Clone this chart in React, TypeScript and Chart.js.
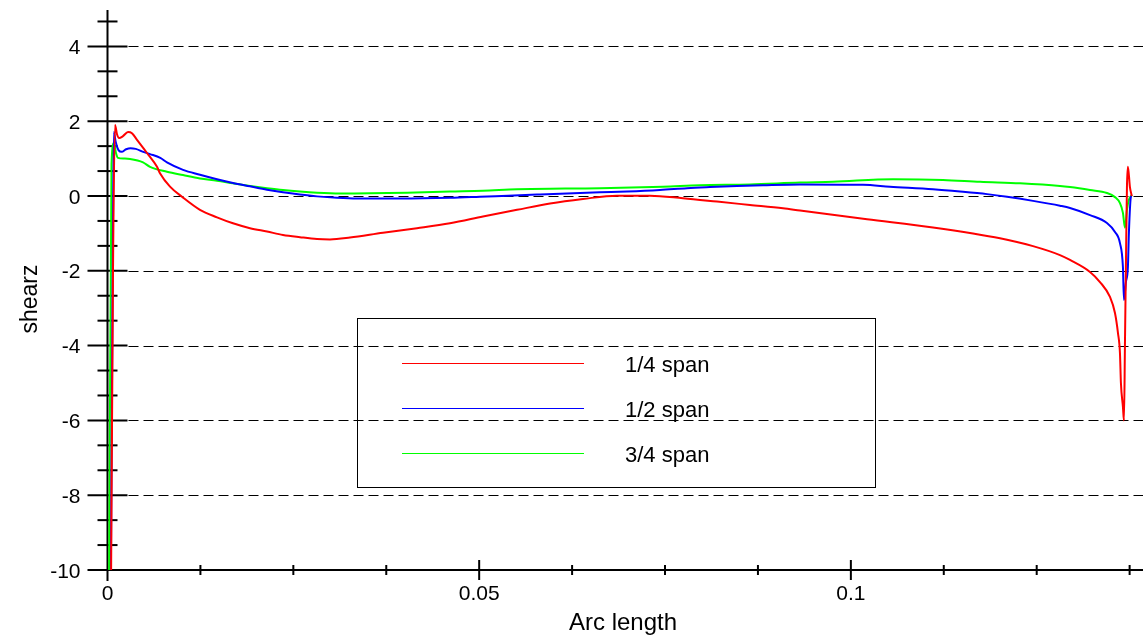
import React, { useEffect, useRef } from "react";
import { Chart, registerables } from "chart.js";

Chart.register(...registerables);

// ---- data ----
const seriesLabels = ["1/4 span", "1/2 span", "3/4 span"];
const seriesColors = ["#ff0000", "#0000ff", "#00ff00"];

const redX = [0.00043, 0.00074, 0.00101, 0.00128, 0.00155, 0.00208, 0.00276, 0.00329, 0.00397, 0.00531, 0.00666, 0.00706, 0.00841, 0.01002, 0.01244, 0.01473, 0.01688, 0.01917, 0.02146, 0.02361, 0.02589, 0.02818, 0.02993, 0.03262, 0.03706, 0.04163, 0.04607, 0.05051, 0.05509, 0.05953, 0.06396, 0.06854, 0.07297, 0.07741, 0.08199, 0.08643, 0.09087, 0.09316, 0.10218, 0.11105, 0.11643, 0.12006, 0.1245, 0.12813, 0.12948, 0.13217, 0.13351, 0.13486, 0.13553, 0.13593, 0.1362, 0.13633, 0.1366, 0.13674, 0.13687, 0.137, 0.13714, 0.13727, 0.13754, 0.1378];
const redY = [-12, -2, 1.9, 1.65, 1.55, 1.6, 1.71, 1.68, 1.5, 1.15, 0.78, 0.61, 0.25, -0.02, -0.37, -0.57, -0.73, -0.86, -0.95, -1.04, -1.1, -1.15, -1.16, -1.11, -0.98, -0.86, -0.73, -0.55, -0.37, -0.2, -0.08, 0.01, 0.01, -0.06, -0.15, -0.24, -0.33, -0.39, -0.62, -0.84, -1.0, -1.13, -1.34, -1.58, -1.71, -2.03, -2.3, -2.7, -3.13, -3.66, -4.2, -5.0, -5.64, -6.0, -4.0, -1.9, 0.24, 0.78, 0.24, 0];

const blueX = [0.0004, 0.0007, 0.00085, 0.0011, 0.0015, 0.0019, 0.0025, 0.0031, 0.0038, 0.0048, 0.00572, 0.0071, 0.008, 0.01016, 0.01244, 0.01473, 0.01688, 0.01917, 0.02146, 0.02361, 0.02589, 0.02818, 0.03087, 0.03356, 0.03935, 0.04607, 0.05011, 0.05388, 0.05778, 0.06181, 0.06625, 0.06988, 0.07432, 0.07795, 0.08105, 0.08468, 0.08818, 0.09316, 0.10163, 0.10526, 0.11105, 0.11468, 0.11832, 0.12101, 0.1245, 0.12813, 0.12948, 0.13217, 0.13445, 0.13553, 0.1362, 0.1366, 0.13674, 0.137, 0.13727, 0.1374, 0.13768, 0.1378];
const blueY = [-12, -2, 1.71, 1.45, 1.22, 1.18, 1.25, 1.28, 1.26, 1.18, 1.12, 1.02, 0.9, 0.7, 0.57, 0.45, 0.35, 0.26, 0.17, 0.1, 0.04, -0.01, -0.05, -0.07, -0.07, -0.05, -0.02, 0.01, 0.04, 0.07, 0.1, 0.12, 0.16, 0.21, 0.24, 0.27, 0.29, 0.31, 0.3, 0.25, 0.18, 0.12, 0.05, -0.02, -0.13, -0.26, -0.32, -0.51, -0.72, -0.96, -1.26, -1.9, -2.78, -2.3, -1.9, -1.0, -0.02, 0];

const greenX = [0.0002, 0.00054, 0.00087, 0.00114, 0.00141, 0.00222, 0.00303, 0.00478, 0.00572, 0.008, 0.01016, 0.01244, 0.01473, 0.01688, 0.01917, 0.02146, 0.02361, 0.02589, 0.02818, 0.03128, 0.0403, 0.04607, 0.05051, 0.05509, 0.06625, 0.07472, 0.0797, 0.08643, 0.09316, 0.0976, 0.10567, 0.1124, 0.11738, 0.12276, 0.12813, 0.12948, 0.13217, 0.13445, 0.13553, 0.1362, 0.1366, 0.13687, 0.13714, 0.1374, 0.1378];
const greenY = [-11, 0.86, 1.42, 1.15, 1.02, 1.0, 0.99, 0.9, 0.78, 0.65, 0.56, 0.47, 0.41, 0.34, 0.27, 0.21, 0.16, 0.12, 0.09, 0.07, 0.09, 0.12, 0.14, 0.18, 0.21, 0.25, 0.29, 0.31, 0.36, 0.38, 0.45, 0.43, 0.38, 0.34, 0.27, 0.24, 0.16, 0.08, -0.03, -0.19, -0.45, -0.85, -0.37, -0.1, 0.03];

const xMin = 0;
const xMax = 0.1393;
const yMin = -10;
const yMax = 5;
const xMajorTicks = [0, 0.05, 0.1];
const xTickLabels = ["0", "0.05", "0.1"];
const xMinorStep = 0.0125;
const yMajorTicks = [-10, -8, -6, -4, -2, 0, 2, 4];
const yTickLabels = ["-10", "-8", "-6", "-4", "-2", "0", "2", "4"];
const yMinorStep = 2 / 3;
const xTitle = "Arc length";
const yTitle = "shearz";

const FONT = '"Liberation Sans", Arial, sans-serif';

const axesPlugin = {
  id: "customAxes",
  beforeDatasetsDraw(chart: any) {
    const ctx = chart.ctx;
    const xs = chart.scales.x;
    const ys = chart.scales.y;
    const area = chart.chartArea;
    const x0 = xs.getPixelForValue(0);
    ctx.save();
    // dashed horizontal grid
    ctx.strokeStyle = "#000";
    ctx.lineWidth = 1;
    ctx.setLineDash([10, 5]);
    yMajorTicks.forEach((v) => {
      if (v === yMin) return;
      const py = Math.round(ys.getPixelForValue(v)) + 0.5;
      ctx.beginPath();
      ctx.moveTo(x0 + 21, py);
      ctx.lineTo(area.right, py);
      ctx.stroke();
    });
    ctx.setLineDash([]);

    const yAxisBottom = ys.getPixelForValue(yMin);
    // axis lines
    ctx.lineWidth = 2;
    ctx.beginPath();
    ctx.moveTo(x0, area.top + 1);
    ctx.lineTo(x0, yAxisBottom + 11);
    ctx.stroke();
    ctx.beginPath();
    ctx.moveTo(x0, yAxisBottom);
    ctx.lineTo(area.right, yAxisBottom);
    ctx.stroke();

    // y major ticks
    yMajorTicks.forEach((v) => {
      const py = ys.getPixelForValue(v);
      ctx.beginPath();
      ctx.moveTo(x0 - 20, py);
      ctx.lineTo(x0 + 20, py);
      ctx.stroke();
    });
    // y minor ticks
    for (let k = 1; ; k++) {
      const v = yMin + k * yMinorStep;
      if (v > yMax + 1e-9) break;
      if (k % 3 === 0) continue;
      const py = ys.getPixelForValue(v);
      ctx.beginPath();
      ctx.moveTo(x0 - 10, py);
      ctx.lineTo(x0 + 10, py);
      ctx.stroke();
    }
    // x major ticks
    xMajorTicks.forEach((v) => {
      if (v === 0) return;
      const px = xs.getPixelForValue(v);
      ctx.beginPath();
      ctx.moveTo(px, yAxisBottom - 10);
      ctx.lineTo(px, yAxisBottom + 10);
      ctx.stroke();
    });
    // x minor ticks
    for (let k = 1; ; k++) {
      const v = xMin + k * xMinorStep;
      if (v > xMax) break;
      if (k % 4 === 0) continue;
      const px = xs.getPixelForValue(v);
      ctx.beginPath();
      ctx.moveTo(px, yAxisBottom - 5);
      ctx.lineTo(px, yAxisBottom + 5);
      ctx.stroke();
    }

    // tick labels
    ctx.fillStyle = "#000";
    ctx.font = `21px ${FONT}`;
    ctx.textAlign = "right";
    ctx.textBaseline = "alphabetic";
    yMajorTicks.forEach((v, i) => {
      const py = ys.getPixelForValue(v);
      ctx.fillText(yTickLabels[i], x0 - 27, py + 7.5);
    });
    ctx.textAlign = "center";
    xMajorTicks.forEach((v, i) => {
      const px = xs.getPixelForValue(v);
      ctx.fillText(xTickLabels[i], px, yAxisBottom + 30);
    });

    // axis titles
    ctx.font = `24px ${FONT}`;
    ctx.fillText(xTitle, 623, 630);
    ctx.save();
    ctx.translate(37, 299);
    ctx.rotate(-Math.PI / 2);
    ctx.font = `23px ${FONT}`;
    ctx.textAlign = "center";
    ctx.fillText(yTitle, 0, 0);
    ctx.restore();
    ctx.restore();
  },
  afterDatasetsDraw(chart: any) {
    const ctx = chart.ctx;
    ctx.save();
    // legend box
    ctx.strokeStyle = "#000";
    ctx.lineWidth = 1;
    ctx.strokeRect(357.5, 318.5, 518, 169);
    const rows = [363.5, 408.5, 453.5];
    chart.data.datasets.forEach((ds: any, i: number) => {
      ctx.strokeStyle = ds.borderColor;
      ctx.lineWidth = 1;
      ctx.beginPath();
      ctx.moveTo(402, rows[i]);
      ctx.lineTo(584, rows[i]);
      ctx.stroke();
      ctx.fillStyle = "#000";
      ctx.font = `22px ${FONT}`;
      ctx.textAlign = "left";
      ctx.textBaseline = "alphabetic";
      ctx.fillText(ds.label, 625, rows[i] + 8.5);
    });
    ctx.restore();
  },
};

function toPoints(xs: number[], ys: number[]) {
  return xs.map((x, i) => ({ x, y: ys[i] }));
}

export default function App() {
  const canvasRef = useRef<HTMLCanvasElement | null>(null);

  useEffect(() => {
    if (!canvasRef.current) return;
    const seriesX = [redX, blueX, greenX];
    const seriesY = [redY, blueY, greenY];
    const chart = new Chart(canvasRef.current, {
      type: "line",
      data: {
        datasets: seriesLabels.map((label, i) => ({
          label,
          data: toPoints(seriesX[i], seriesY[i]),
          borderColor: seriesColors[i],
          backgroundColor: seriesColors[i],
          borderWidth: 2,
          pointRadius: 0,
          fill: false,
          cubicInterpolationMode: "monotone" as const,
        })),
      },
      options: {
        animation: false,
        responsive: false,
        devicePixelRatio: 1,
        layout: { padding: { left: 107.5, right: 0, top: 9, bottom: 66 } },
        plugins: { legend: { display: false }, tooltip: { enabled: false } },
        scales: {
          x: { type: "linear", min: xMin, max: xMax, display: false },
          y: { type: "linear", min: yMin, max: yMax, display: false },
        },
      },
      plugins: [axesPlugin],
    });
    return () => chart.destroy();
  }, []);

  return (
    <div style={{ position: "absolute", left: 0, top: 0, width: 1143, height: 636, background: "#fff" }}>
      <canvas ref={canvasRef} width={1143} height={636} />
    </div>
  );
}
